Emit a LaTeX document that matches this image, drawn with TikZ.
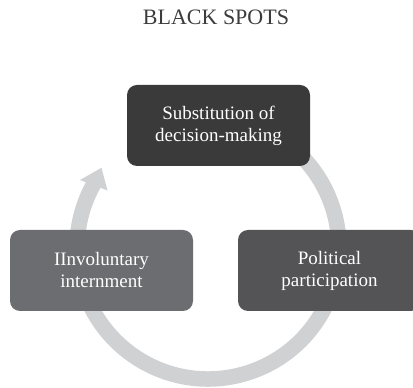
\documentclass[tikz,border=0pt]{standalone}
\usepackage{fontspec}
\setmainfont{Liberation Serif}
\usetikzlibrary{calc}
\definecolor{ringgray}{HTML}{D0D1D3}
\definecolor{boxdark}{HTML}{3A3A3A}
\definecolor{boxmid}{HTML}{545456}
\definecolor{boxlight}{HTML}{6C6D70}
\definecolor{titlegray}{HTML}{3C3C3C}
\begin{document}
\begin{tikzpicture}[x=1pt,y=1pt,
  stage/.style={rounded corners=10pt, minimum width=183pt, minimum height=81pt,
    text=white, align=center, inner sep=0pt,
    font=\fontsize{19}{22}\selectfont},
  ring/.style={ringgray, line width=15.5pt}]
\useasboundingbox (0,0) rectangle (413,388);
\clip (0,0) rectangle (413,388);

% title
\node[font=\fontsize{22}{26}\selectfont, text=titlegray, anchor=base]
  (title) at (216,363) {BLACK SPOTS};

% continuous cycle arrow behind the stages
\coordinate (ctr) at (208,140);
\draw[ring] ($(ctr)+(60:131)$) arc[start angle=60, end angle=-210.5, radius=131];
\coordinate (headL) at (80,208);
\coordinate (headR) at (107.5,197.5);
\coordinate (headTip) at (101.5,220.2);
\fill[ringgray] (headL) -- (headTip) -- (headR) -- cycle;

% stages
\node[stage, fill=boxdark] (subst) at (218.5,262.5) {Substitution of\\decision-making};
\node[stage, fill=boxmid] (polit) at (329.5,117.5) {Political\\participation};
\node[stage, fill=boxlight] (invol) at (101.5,117.5) {IInvoluntary\\internment};
\end{tikzpicture}
\end{document}
